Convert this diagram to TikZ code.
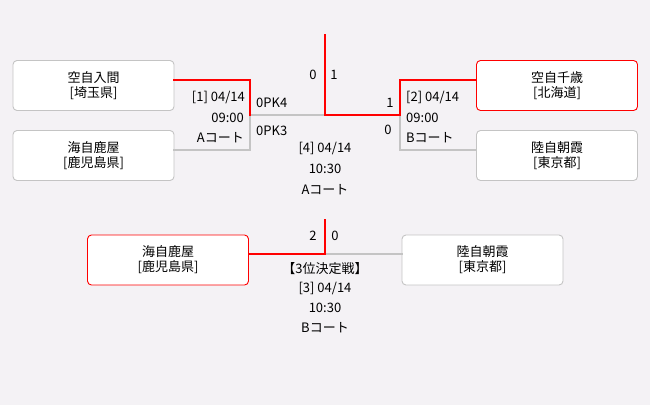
\documentclass[tikz,border=0pt]{standalone}
\usepackage{fontspec}
\setmainfont{Noto Sans CJK JP}
\usepackage{tikz}
\definecolor{bgpage}{HTML}{F4F2F5}
\definecolor{winred}{HTML}{FF0000}
\definecolor{losegray}{HTML}{C4C4C4}
\begin{document}
\begin{tikzpicture}
    [x=1pt,y=-1pt,line cap=rect,
     team/.style={draw=losegray,fill=white,rounded corners=4pt,line width=0.9pt,
        minimum width=161pt,minimum height=50pt,align=center,inner sep=0pt,
        font=\fontsize{13}{15}\selectfont},
     teamwin/.style={team,draw=winred},
     win/.style={draw=winred,line width=2pt},
     lose/.style={draw=losegray,line width=2pt},
     info/.style={inner sep=0pt,font=\fontsize{13}{15}\selectfont}]
%background
\fill[bgpage] (0,0) rectangle (650,405);
\useasboundingbox (0,0) rectangle (650,405);
%teams
\node[team] (iruma) at (93.5,85.5) {空自入間\\{}[埼玉県]};
\node[team] (kanoya) at (93.5,155.5) {海自鹿屋\\{}[鹿児島県]};
\node[teamwin] (chitose) at (557,85.5) {空自千歳\\{}[北海道]};
\node[team] (asaka) at (557,155.5) {陸自朝霞\\{}[東京都]};
\node[teamwin] (kanoyab) at (168,260) {海自鹿屋\\{}[鹿児島県]};
\node[team] (asakab) at (482.5,260) {陸自朝霞\\{}[東京都]};
%joints
\coordinate (semia) at (250,115);
\coordinate (semib) at (400,115);
\coordinate (final) at (325,115);
\coordinate (finaltop) at (325,35);
\coordinate (third) at (325,254);
\coordinate (thirdtop) at (325,220);
%losing lines first
\draw[lose] ([yshift=6pt]kanoya.east) -| (semia);
\draw[lose] (semia) -- (final);
\draw[lose] ([yshift=6pt]asaka.west) -| (semib);
\draw[lose] (third) -- ([yshift=6pt]asakab.west);
%winning lines
\draw[win] ([yshift=6pt]iruma.east) -| (semia);
\draw[win] ([yshift=6pt]chitose.west) -| (semib);
\draw[win] (finaltop) -- (final) -- (semib);
\draw[win] ([yshift=6pt]kanoyab.east) -- (third) -- (thirdtop);
%game [1]
\node[info,anchor=east] (ga) at (245,97) {[1] 04/14};
\node[info,anchor=east] (gatime) at (244,118) {09:00};
\node[info,anchor=east] (gacourt) at (244,138) {Aコート};
\node[info,anchor=west] (gascorea) at (256,103) {0PK4};
\node[info,anchor=west] (gascoreb) at (256,131) {0PK3};
%game [2]
\node[info,anchor=west] (gb) at (406,97) {[2] 04/14};
\node[info,anchor=west] (gbtime) at (406,118) {09:00};
\node[info,anchor=west] (gbcourt) at (406,138) {Bコート};
\node[info] (gbscorea) at (390,103) {1};
\node[info] (gbscoreb) at (388,130) {0};
%final [4]
\node[info] (fscorea) at (313,75) {0};
\node[info] (fscoreb) at (334,75) {1};
\node[info] (fg) at (325,148) {[4] 04/14};
\node[info] (fgtime) at (325,169) {10:30};
\node[info] (fgcourt) at (325,190) {Aコート};
%third place [3]
\node[info] (tscorea) at (313,236) {2};
\node[info] (tscoreb) at (335,236) {0};
\node[info] (tg) at (325,269) {【3位決定戦】};
\node[info] (tgdate) at (325,288) {[3] 04/14};
\node[info] (tgtime) at (325,308) {10:30};
\node[info] (tgcourt) at (325,328) {Bコート};
\end{tikzpicture}
\end{document}
